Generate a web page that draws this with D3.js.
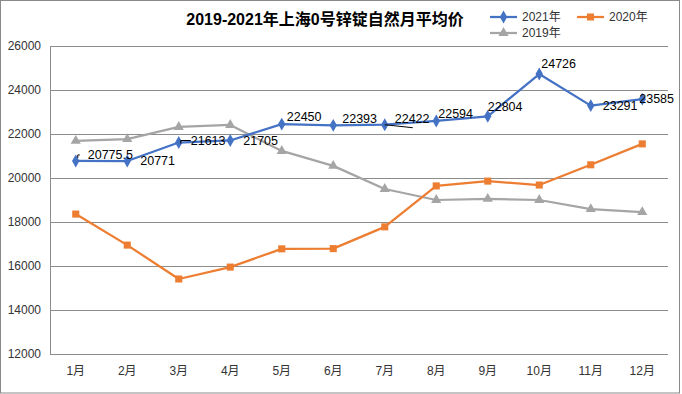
<!DOCTYPE html>
<html>
<head>
<meta charset="utf-8">
<script src="https://cdn.jsdelivr.net/npm/d3@7"></script>
<style>
  body { margin: 0; background: #fff; }
  text { font-family: "Liberation Sans", "Noto Sans CJK SC", sans-serif; }
</style>
</head>
<body>
<div id="chart"></div>
<script>
// Dati
const months = ["1月", "2月", "3月", "4月", "5月", "6月", "7月", "8月", "9月", "10月", "11月", "12月"];
const values2021 = [20775.5, 20771, 21613, 21705, 22450, 22393, 22422, 22594, 22804, 24726, 23291, 23585];
const values2020 = [18360, 16950, 15410, 15950, 16780, 16790, 17780, 19640, 19860, 19680, 20600, 21550];
const values2019 = [21690, 21770, 22320, 22410, 21230, 20550, 19500, 19000, 19050, 19000, 18590, 18450];
const yTicks = [12000, 14000, 16000, 18000, 20000, 22000, 24000, 26000];

// Variabili
const [width, height] = [682, 394];
const margin = { left: 50, right: 14, top: 46, bottom: 40 };
const colors = { y2021: "#4472C4", y2020: "#ED7D31", y2019: "#A5A5A5" };
// spostamento delle etichette 2021 rispetto al punto (dx, dy)
const labelShift = [[12, -6], [13, 0], [12, -2], [13, 0], [5, -7], [9, -7], [10, -6], [2, -7], [0, -10], [2, -10], [12, 0], [-3, -1]];

const svg = d3.select("#chart")
  .append("svg")
  .attr("width", width)
  .attr("height", height);

svg.append("rect")
  .attr("x", 0.5).attr("y", 0.5)
  .attr("width", 679).attr("height", 392.5)
  .attr("fill", "#fff")
  .attr("stroke", "#898989");

const xScale = d3.scaleBand()
  .domain(months)
  .range([margin.left, width - margin.right]);

const yScale = d3.scaleLinear()
  .domain([12000, 26000])
  .range([height - margin.bottom, margin.top]);

const cx = (i) => xScale(months[i]) + xScale.bandwidth() / 2;

// Griglia e assi
svg.append("g")
  .selectAll("line")
  .data(yTicks)
  .enter()
  .append("line")
  .attr("x1", margin.left)
  .attr("x2", width - margin.right)
  .attr("y1", d => Math.round(yScale(d)) + 0.5)
  .attr("y2", d => Math.round(yScale(d)) + 0.5)
  .attr("stroke", "#8c8c8c")
  .attr("stroke-width", 1);

svg.append("line")
  .attr("x1", margin.left + 0.5).attr("x2", margin.left + 0.5)
  .attr("y1", yScale(26000)).attr("y2", yScale(12000))
  .attr("stroke", "#8c8c8c");

svg.append("g")
  .selectAll("text")
  .data(yTicks)
  .enter()
  .append("text")
  .attr("x", 41)
  .attr("y", d => yScale(d))
  .attr("dy", "0.35em")
  .attr("text-anchor", "end")
  .attr("font-size", 12)
  .attr("fill", "#333")
  .text(d => d);

svg.append("g")
  .selectAll("text")
  .data(months)
  .enter()
  .append("text")
  .attr("x", d => xScale(d) + xScale.bandwidth() / 2)
  .attr("y", 371)
  .attr("dy", "0.35em")
  .attr("text-anchor", "middle")
  .attr("font-size", 12)
  .attr("fill", "#333")
  .text(d => d);

// Linee e marcatori
const line = d3.line()
  .x((d, i) => cx(i))
  .y(d => yScale(d));

const drawSeries = (values, color, symbolType, size) => {
  svg.append("path")
    .datum(values)
    .attr("d", line)
    .attr("fill", "none")
    .attr("stroke", color)
    .attr("stroke-width", 2.25)
    .attr("stroke-linejoin", "round");

  svg.append("g")
    .selectAll("path")
    .data(values)
    .enter()
    .append("path")
    .attr("d", d3.symbol().type(symbolType).size(size))
    .attr("transform", (d, i) => "translate(" + cx(i) + "," + yScale(d) + ")")
    .attr("fill", color);
};

drawSeries(values2019, colors.y2019, d3.symbolTriangle, 45);
drawSeries(values2020, colors.y2020, d3.symbolSquare, 50);
drawSeries(values2021, colors.y2021, d3.symbolDiamond, 48);

// Etichette 2021 con linee guida
const leaders = [[0, 2, -6], [2, 10, -2]];
leaders.forEach(([i, len, dy]) => {
  svg.append("path")
    .attr("d", "M" + (cx(i) + 2) + "," + (yScale(values2021[i]) + dy + 3) +
      "v-3h" + len)
    .attr("fill", "none")
    .attr("stroke", "#000")
    .attr("stroke-width", 1);
});

svg.append("line")
  .attr("x1", cx(6)).attr("y1", yScale(values2021[6]))
  .attr("x2", cx(6) + 28).attr("y2", yScale(values2021[6]) + 3)
  .attr("stroke", "#000")
  .attr("stroke-width", 1);

svg.append("g")
  .selectAll("text")
  .data(values2021)
  .enter()
  .append("text")
  .attr("x", (d, i) => cx(i) + labelShift[i][0])
  .attr("y", (d, i) => yScale(d) + labelShift[i][1])
  .attr("dy", "0.35em")
  .attr("font-size", 12.5)
  .attr("fill", "#000")
  .text(d => d);

// Titolo
svg.append("text")
  .attr("x", 325)
  .attr("y", 19)
  .attr("dy", "0.35em")
  .attr("text-anchor", "middle")
  .attr("font-size", 16)
  .attr("font-weight", "bold")
  .attr("fill", "#000")
  .text("2019-2021年上海0号锌锭自然月平均价");

// Legenda
const legend = [
  { name: "2021年", color: colors.y2021, type: d3.symbolDiamond, size: 48, x: 490, y: 17 },
  { name: "2020年", color: colors.y2020, type: d3.symbolSquare, size: 50, x: 577, y: 17 },
  { name: "2019年", color: colors.y2019, type: d3.symbolTriangle, size: 45, x: 490, y: 33 }
];

const legendItem = svg.append("g")
  .selectAll("g")
  .data(legend)
  .enter()
  .append("g")
  .attr("transform", d => "translate(" + d.x + "," + d.y + ")");

legendItem.append("line")
  .attr("x1", 0).attr("x2", 27)
  .attr("stroke", d => d.color)
  .attr("stroke-width", 2.25);

legendItem.append("path")
  .attr("d", d => d3.symbol().type(d.type).size(d.size)())
  .attr("transform", "translate(13.5,0)")
  .attr("fill", d => d.color);

legendItem.append("text")
  .attr("x", 32)
  .attr("dy", "0.35em")
  .attr("font-size", 12)
  .attr("fill", "#333")
  .text(d => d.name);
</script>
</body>
</html>
